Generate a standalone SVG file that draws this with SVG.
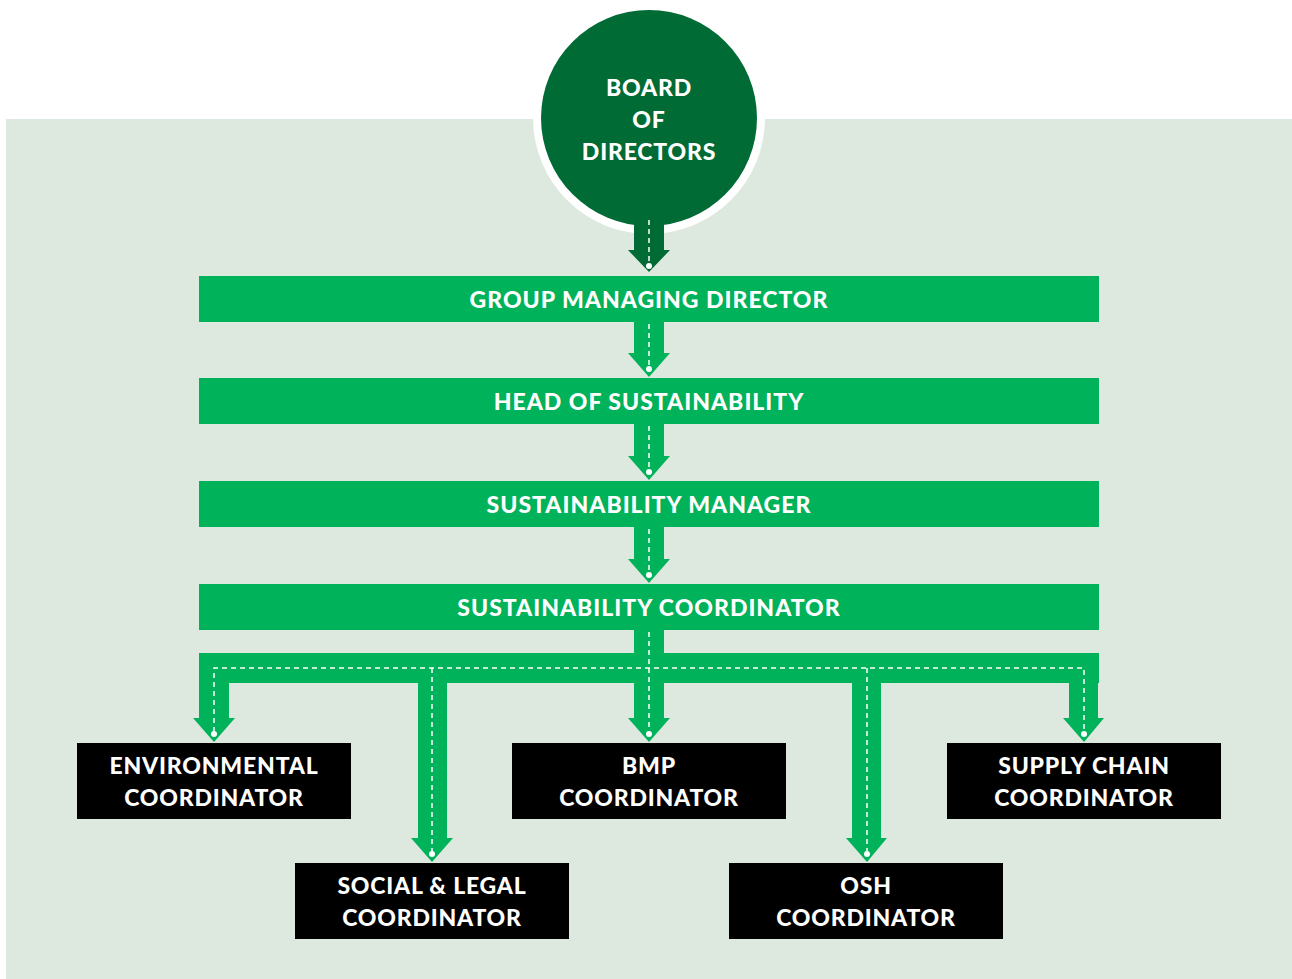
<svg xmlns="http://www.w3.org/2000/svg" width="1292" height="979" viewBox="0 0 1292 979">
<style>
.bar{fill:#00b25a}
.box{fill:#000}
.t{font-family:Lato,"Open Sans",sans-serif;font-weight:900;fill:#fff;text-anchor:middle;font-size:23px;letter-spacing:0.8px}
.tb{letter-spacing:1px}
.dash{fill:none;stroke:#fff;stroke-width:1.5;stroke-dasharray:5 4}
.dot{fill:#fff}
.arr{fill:#00b25a}
</style>
<rect x="0" y="0" width="1292" height="979" fill="#fff"/>
<rect x="6" y="119" width="1286" height="860" fill="#dde8de"/>

<g id="board">
  <circle cx="649" cy="118" r="116" fill="#fff"/>
  <circle cx="649" cy="118" r="108" fill="#006b35"/>
  <text class="t" x="649" y="96">BOARD</text>
  <text class="t" x="649" y="128">OF</text>
  <text class="t" x="649" y="160">DIRECTORS</text>
</g>

<g id="connectors">
  <polygon points="634,215 664,215 664,250 670,250 649,272 628,250 634,250" fill="#006b35"/>
  <line class="dash" x1="649" y1="220" x2="649" y2="264"/>
  <circle class="dot" cx="649" cy="266" r="3"/>
  <polygon class="arr" points="634,322 664,322 664,353 670,353 649,377 628,353 634,353"/>
  <line class="dash" x1="649" y1="324" x2="649" y2="367"/>
  <circle class="dot" cx="649" cy="369" r="3"/>
  <polygon class="arr" points="634,424 664,424 664,456 670,456 649,480 628,456 634,456"/>
  <line class="dash" x1="649" y1="426" x2="649" y2="470"/>
  <circle class="dot" cx="649" cy="472" r="3"/>
  <polygon class="arr" points="634,527 664,527 664,559 670,559 649,583 628,559 634,559"/>
  <line class="dash" x1="649" y1="529" x2="649" y2="573"/>
  <circle class="dot" cx="649" cy="575" r="3"/>
  <rect class="arr" x="634" y="629" width="30" height="25"/>
  <rect class="arr" x="199" y="653" width="900" height="30"/>
  <polygon class="arr" points="199,683 229,683 229,718 235,718 214,742 193,718 199,718"/>
  <polygon class="arr" points="418,683 447,683 447,838 453,838 432,862 411,838 418,838"/>
  <polygon class="arr" points="634,683 664,683 664,718 670,718 649,742 628,718 634,718"/>
  <polygon class="arr" points="852,683 881,683 881,838 887,838 867,862 846,838 852,838"/>
  <polygon class="arr" points="1069,683 1098,683 1098,718 1104,718 1084,742 1063,718 1069,718"/>
  <line class="dash" x1="649" y1="632" x2="649" y2="732"/>
  <polyline class="dash" points="214,732 214,668 1084,668 1084,732"/>
  <line class="dash" x1="432" y1="668" x2="432" y2="852"/>
  <line class="dash" x1="867" y1="668" x2="867" y2="852"/>
  <circle class="dot" cx="214" cy="734" r="3"/>
  <circle class="dot" cx="649" cy="734" r="3"/>
  <circle class="dot" cx="1084" cy="734" r="3"/>
  <circle class="dot" cx="432" cy="854" r="3"/>
  <circle class="dot" cx="867" cy="854" r="3"/>
</g>

<g id="gmd">
  <rect class="bar" x="199" y="276" width="900" height="46"/>
  <text class="t tb" x="649" y="308">GROUP MANAGING DIRECTOR</text>
</g>
<g id="hos">
  <rect class="bar" x="199" y="378" width="900" height="46"/>
  <text class="t tb" x="649" y="410">HEAD OF SUSTAINABILITY</text>
</g>
<g id="sm">
  <rect class="bar" x="199" y="481" width="900" height="46"/>
  <text class="t tb" x="649" y="513">SUSTAINABILITY MANAGER</text>
</g>
<g id="sc">
  <rect class="bar" x="199" y="584" width="900" height="46"/>
  <text class="t tb" x="649" y="616">SUSTAINABILITY COORDINATOR</text>
</g>

<g id="env">
  <rect class="box" x="77" y="743" width="274" height="76"/>
  <text class="t" x="214" y="774">ENVIRONMENTAL</text>
  <text class="t" x="214" y="806">COORDINATOR</text>
</g>
<g id="bmp">
  <rect class="box" x="512" y="743" width="274" height="76"/>
  <text class="t" x="649" y="774">BMP</text>
  <text class="t" x="649" y="806">COORDINATOR</text>
</g>
<g id="supply">
  <rect class="box" x="947" y="743" width="274" height="76"/>
  <text class="t" x="1084" y="774">SUPPLY CHAIN</text>
  <text class="t" x="1084" y="806">COORDINATOR</text>
</g>
<g id="social">
  <rect class="box" x="295" y="863" width="274" height="76"/>
  <text class="t" x="432" y="894">SOCIAL &amp; LEGAL</text>
  <text class="t" x="432" y="926">COORDINATOR</text>
</g>
<g id="osh">
  <rect class="box" x="729" y="863" width="274" height="76"/>
  <text class="t" x="866" y="894">OSH</text>
  <text class="t" x="866" y="926">COORDINATOR</text>
</g>
</svg>
